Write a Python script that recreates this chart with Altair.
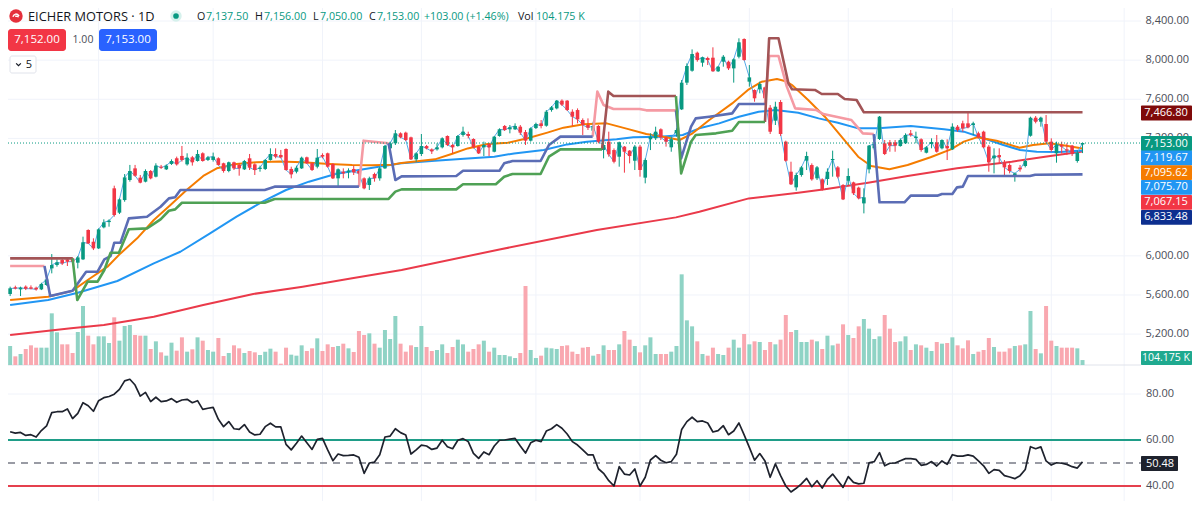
import altair as alt
import pandas as pd

opens = [5610,5678,5657,5685,5678,5674,5657,5702,5872,5906,
5957,5964,5974,5930,5964,6264,6144,6076,6291,6345,
6690,6441,6570,6775,6894,6799,6758,6867,6809,6911,
6884,6939,6997,7021,6935,7007,6969,7048,6980,6980,
6997,6946,6867,6956,6929,6884,6997,6935,6888,6888,
6980,7041,7031,7092,6888,6860,6894,7007,6946,6911,
7031,7048,6939,6792,6860,6854,6888,6867,6792,6724,
6836,6792,6894,7099,7150,7252,7259,7211,6986,7041,
7122,7088,7088,7109,7225,7133,7122,7235,7245,7194,
7116,7109,7143,7064,7225,7327,7293,7293,7320,7265,
7177,7306,7354,7330,7490,7507,7586,7586,7473,7490,
7388,7337,7279,7327,7081,7167,7081,7013,7116,7075,
6972,7116,6799,7191,7201,7293,7208,7109,7252,7497,
7770,7892,8076,7974,8022,8025,7886,7984,7984,7916,
8035,8216,7780,7695,7702,7722,7514,7381,7572,7167,
6860,6700,6826,6973,6928,6792,6782,6785,6979,6904,
6724,6768,6751,6697,6536,6884,7099,7194,7150,7160,
7160,7122,7150,7252,7204,7191,7054,7143,7160,7099,
7122,7088,7320,7354,7354,7337,7252,7269,7116,6996,
7030,6955,6928,6809,6901,6918,7228,7412,7371,7347,
7167,7047,7133,7088,7126,6969,7137.5]
closes = [5668,5667,5674,5664,5664,5657,5712,5759,5906,5933,
5923,5940,5940,5984,6138,6127,6076,6271,6342,6359,
6417,6577,6802,6867,6819,6748,6867,6792,6922,6901,
6922,6969,6935,6980,7003,6956,7041,6969,7007,7014,
6929,6867,6956,6894,6894,6969,6901,6877,6901,6980,
7041,7014,7007,6877,6833,6901,7003,6946,6877,7003,
7014,6911,6792,6884,6843,6871,6854,6843,6690,6792,
6792,6894,7123,7150,7252,7211,7184,6986,7047,7122,
7098,7068,7109,7201,7133,7109,7225,7269,7225,7109,
7047,7133,7109,7218,7293,7286,7313,7327,7259,7177,
7303,7347,7327,7473,7518,7586,7545,7490,7422,7395,
7337,7310,7327,7167,7133,7037,6962,7160,7064,7020,
7116,6877,6979,7218,7269,7211,7167,7191,7286,7770,
7940,8063,8001,8029,8001,7886,7933,8035,7916,8008,
8182,8001,7824,7610,7756,7610,7269,7524,7245,6972,
6731,6826,6904,7020,6782,6904,6683,6860,6990,6809,
6577,6816,6639,6588,6598,7126,7143,7422,7041,7126,
7126,7184,7235,7235,7218,7082,7109,7163,7064,7184,
7099,7320,7286,7303,7313,7354,7211,7109,6955,7024,
7007,6904,6867,6843,6884,6969,7412,7371,7412,7167,
7082,7139,7116,7075,7041,7054,7153]
highs = [5685,5695,5685,5698,5698,5685,5725,5780,6018,5964,
5984,5984,5984,5998,6196,6271,6179,6281,6373,6373,
6717,6587,6836,6929,6929,6826,6884,6877,6946,6929,
6935,6986,7014,7123,7048,7021,7082,7058,7021,7055,
7007,6952,6963,6963,6946,6980,7041,6946,6922,6990,
7099,7099,7082,7099,6911,6922,7014,7014,6956,7092,
7048,7055,6946,6894,6894,6894,6922,6877,6802,6809,
6850,6911,7133,7167,7286,7262,7269,7218,7058,7245,
7133,7098,7150,7211,7231,7143,7235,7320,7269,7201,
7122,7167,7150,7225,7303,7337,7337,7354,7337,7286,
7313,7361,7388,7490,7531,7592,7599,7592,7497,7507,
7405,7405,7371,7337,7167,7269,7098,7167,7122,7081,
7133,7133,6996,7252,7320,7303,7218,7218,7303,7797,
7967,8110,8087,8035,8035,8131,7940,8052,7995,8018,
8223,8223,7950,7702,7780,7729,7541,7575,7592,7177,
6962,6850,6918,7064,6945,6918,6792,6894,7075,6918,
6734,6894,6758,6707,6690,7133,7167,7429,7184,7184,
7184,7201,7252,7286,7269,7201,7122,7201,7235,7191,
7191,7354,7337,7381,7463,7371,7269,7279,7133,7099,
7099,6979,6945,6850,6928,6979,7422,7429,7422,7439,
7201,7167,7167,7150,7133,7075,7156]
lows = [5589,5657,5589,5650,5657,5644,5650,5695,5821,5889,
5906,5896,5906,5872,5957,6121,6059,6070,6281,6298,
6400,6427,6553,6758,6809,6741,6751,6782,6802,6888,
6877,6929,6922,6963,6922,6922,6963,6963,6969,6963,
6922,6850,6854,6877,6819,6877,6877,6826,6860,6877,
6973,6997,6997,6871,6792,6843,6888,6939,6867,6894,
6997,6901,6785,6707,6792,6792,6826,6707,6680,6673,
6758,6768,6888,7082,7133,7201,7173,6979,6962,7020,
7088,7041,7075,7098,7122,7047,7116,7218,7201,7098,
7041,7020,7020,7058,7218,7276,7252,7286,7235,7133,
7167,7296,7303,7320,7473,7497,7531,7480,7327,7354,
7235,7286,7252,7150,6996,7013,6945,6911,6850,6945,
6877,6809,6741,7081,7184,7184,7116,7064,7218,7490,
7746,7882,7984,7933,7950,7882,7879,7933,7899,7770,
8018,7995,7729,7575,7661,7592,7245,7337,7225,6962,
6724,6666,6809,6877,6768,6775,6666,6724,6809,6792,
6570,6724,6622,6577,6434,6843,7082,7184,7030,7064,
7064,7116,7143,7218,7150,7064,7047,7099,7054,7088,
6979,7082,7269,7269,7303,7235,7201,7099,6860,6843,
6945,6809,6843,6758,6860,6904,7218,7354,7320,7150,
7064,6952,7047,7030,7020,6952,7050]

volumes = [399,182,231,336,413,364,364,364,1085,686,
434,434,252,693,1239,616,434,602,602,462,
1001,511,819,840,630,616,616,336,497,266,
196,469,301,581,280,329,581,511,315,280,
567,189,252,413,350,252,294,266,210,280,
343,280,28,364,217,196,413,294,350,560,
294,434,378,399,448,350,273,714,630,665,
448,364,735,546,1029,448,280,413,378,819,
378,294,315,434,252,378,532,434,280,336,
434,511,280,364,210,210,182,147,252,1659,
315,147,196,364,350,336,399,413,280,231,
364,378,196,231,
413,315,315,434,714,532,399,266,413,581,
231,231,231,280,399,1904,938,812,497,231,
196,364,231,210,364,532,364,651,434,497,
483,315,483,434,532,1050,693,735,483,483,
532,497,336,616,413,448,854,630,567,812,
966,763,546,602,1050,763,483,497,602,315,
434,413,364,294,483,448,462,581,413,350,
518,231,280,315,567,378,280,280,350,399,
413,434,1134,336,245,1239,511,399,364,364,
364,350,104]
vol_dirs = ("GRGRRRGGGG" "RRRGGRRGGG" "RGGGRRGRGR" "GGRRGRGRGG" "RRGRRGRRGG" "GRRRGGGRRG"
            "RRRGRGRRRG" "RGGGGRRRGG" "RRGGRRGGRR" "RGRGGGGGRR" "GGRGGGRRRR" "RRGR"
            "GRRGRRGRGG" "GRRGGGGGRG" "RRGGRGGRGR" "GRRGRRRGGG" "RGRGGRRGRR" "GGGGRRRGGR"
            "GRGGRGRGRR" "RGRRRGRRRG" "RGGRGRRGRR" "RGG")

rsi = [63.6,63.0,63.3,62.0,62.3,61.3,64.1,66.1,71.9,72.3,
72.3,73.5,69.3,71.6,76.2,74.9,72.5,77.1,78.4,78.9,
79.9,82.0,85.7,86.4,83.9,79.1,80.7,76.7,78.6,76.7,
77.0,78.0,76.4,77.4,77.7,76.2,77.1,73.3,73.8,74.2,
69.0,65.8,68.0,64.9,64.6,66.7,63.5,62.2,62.5,65.8,
67.3,65.7,65.7,58.1,55.7,58.6,61.7,58.8,55.9,60.3,
60.7,55.7,51.0,53.9,53.2,53.3,53.5,52.5,45.5,50.0,
50.4,53.6,61.3,61.7,64.9,63.2,62.2,53.9,55.7,57.8,
57.4,55.9,56.5,59.9,57.1,56.2,59.9,60.6,59.3,54.2,
52.0,54.8,53.6,57.4,59.9,60.0,60.4,60.7,57.4,54.3,
58.8,59.9,59.3,63.9,64.9,66.7,65.1,62.6,59.3,57.8,
55.7,53.5,53.5,47.5,
45.5,42.3,40.0,48.4,45.2,44.8,47.4,40.0,43.8,51.3,
53.2,51.2,50.1,50.6,53.8,64.6,68.0,69.9,68.0,68.3,
67.4,63.5,64.1,66.2,62.3,63.9,67.4,62.2,56.8,51.2,
54.1,50.9,43.8,49.6,44.5,40.0,37.4,39.0,40.9,43.3,
39.7,42.3,39.1,42.9,45.2,42.3,39.4,44.1,41.6,40.9,
41.2,50.1,50.6,54.5,48.8,49.9,50.0,51.0,51.9,51.9,
51.6,49.0,49.4,50.6,48.7,50.9,49.4,53.6,53.0,53.0,
53.5,53.0,50.9,48.8,45.5,47.1,46.8,44.5,43.9,43.2,
44.5,47.2,57.1,56.2,57.0,50.9,49.1,50.1,49.9,49.4,
48.4,47.8,50.48]

ma_orange = [(0,5548),(7.3,5582),(12,5644),(14.9,5753),(18.7,5889),(21.2,6025),(24.4,6179),(27.6,6366),(30.8,6519),
(33.9,6673),(37.1,6816),(39.7,6895),(43.5,6939),(47.3,6956),(51.7,6963),(56.2,6956),(61.3,6939),(65.7,6929),(69.5,6925),
(73.3,6930),(75.2,6950),(81.6,6986),(84.8,7041),(87.9,7098),(91.7,7143),(95.6,7156),(99.4,7201),(103.2,7259),(106.3,7310),
(110.2,7344),(114.6,7354),(118.4,7300),(122.2,7245),(126,7211),(128.6,7184),(131.1,7252),(134.3,7388),(138.7,7558),(141.9,7702),
(144.4,7780),(147.3,7807),(149,7785),(150.2,7746),(153.3,7593),(156.5,7422),(159.7,7218),(162.9,7013),(165.4,6918),(168.9,6884),
(172.4,6928),(176.8,7007),(180.7,7088),(183.2,7167),(185.7,7211),(189.5,7177),(193.9,7105),(196.5,7133),(199.7,7150),(202.9,7126),(206,7096)]
ma_blue = [(0,5497),(7.3,5548),(13,5623),(20.6,5743),(27.6,5923),(32.7,6042),(38.4,6230),(43.5,6400),(48.5,6553),(53,6673),
(57.4,6758),(62.5,6836),(67,6877),(70.8,6911),(75.2,6946),(81.6,6972),(87.9,6996),(93,7013),(96.8,7047),(102.5,7081),(107,7139),
(110.8,7167),(116.5,7191),(119.7,7211),(124.8,7218),(129.2,7235),(132.4,7303),(136.2,7354),(140,7422),(143.8,7473),(147,7490),
(151.4,7463),(155.3,7405),(159,7361),(162.9,7303),(166.7,7303),(173,7327),(179.4,7293),(183.2,7269),(187,7201),(190.8,7133),
(194,7082),(197.2,7064),(201.6,7060),(206,7076)]
ma_red = [(0,5190),(11.7,5259),(18,5293),(27.6,5378),(37.1,5497),(46.7,5610),(56.2,5685),(65.7,5770),(75.2,5855),(94,6065),
(112.7,6264),(127.9,6393),(132.4,6451),(141.9,6587),(151.4,6645),(156.5,6680),(164.8,6748),(172.4,6816),(181.9,6894),(192.4,6962),
(198.8,7013),(206,7067)]

band_pink_a = [(0,5896),(6.6,5896)]
band_navy_a = [(6.6,5896),(7.7,5589),(12,5644),(14.6,5838),(16.8,5838),(18.1,5964),(19.3,5998),(20,6134),(21.2,6134),(22.8,6383),
(26.3,6400),(28.9,6502),(30.5,6587),(31.7,6598),(32.7,6673),(48.9,6673),(50.8,6707),(67,6707)]
band_pink_b = [(67,6707),(67.9,7177),(72.7,7150)]
band_navy_b = [(72.7,7150),(74,6775),(75.2,6812),(85.7,6816),(87,6870),(94,6870),(94.9,6945),(96.5,6969),(101.9,6969),(103.5,7133),
(105.7,7218),(111.9,7218)]
band_pink_c = [(111.9,7218),(112.8,7678),(114,7541),(115.9,7501),(120.9,7501),(122.2,7487),(127.9,7487)]
band_navy_c = [(127.9,7487),(128.9,6996),(130.8,7320),(131.7,7405),(134.3,7422),(138.7,7456),(140,7552),(145,7552)]
band_pink_d = [(145,7552),(145.8,8042),(147.6,8042),(149.2,7729),(150.8,7507),(154.9,7490),(156.2,7449),(161.6,7388),(163.8,7252),(165.9,7245)]
band_navy_d = [(165.9,7245),(167,6547),(171.8,6547),(173,6615),(178.1,6615),(179,6632),(181,6632),(181.9,6700),(183,6707),(184,6816),
(195.9,6816),(196.9,6829),(206,6833)]
band_dark_a = [(0,5974),(12,5974)]
band_green_a = [(12,5974),(12.9,5548),(14.9,5736),(16.8,5736),(18.1,5855),(19.3,6032),(20.9,6032),(22.8,6271),(26.3,6281),(28.9,6373),
(30.5,6461),(31.7,6475),(33,6543),(48.9,6543),(50.8,6581),(72.7,6581),(74,6656),(75.2,6679),(85.7,6679),(87,6731),(93.3,6731),
(94.9,6809),(96.5,6836),(101.9,6836),(103.5,7013),(105.7,7088),(113.7,7088)]
band_dark_b = [(113.7,7088),(114.9,7678),(115.9,7633),(127.9,7633)]
band_green_b = [(127.9,7633),(128.9,6843),(130.8,7167),(131.7,7235),(135.6,7252),(138.7,7279),(140,7368),(145,7368)]
band_dark_c = [(145,7368),(145.8,8223),(147.6,8223),(149.5,7763),(150.2,7702),(154.6,7695),(155.9,7654),(159,7654),(160.3,7603),
(162.6,7593),(164,7467),(206,7467)]

price_ticks = [8400,8000,7600,7200,6000,5600,5200]
rsi_ticks = [80,60,40]
time_grid = [17,39,60,79,101,121,142,161,181,200,214]

n = 207
assert len(opens)==n and len(closes)==n and len(highs)==n and len(lows)==n and len(volumes)==n and len(vol_dirs)==n and len(rsi)==n

W, H = 1184, 493
UP, DOWN = "#089981", "#f23645"
xs = alt.Scale(domain=[0.552, 226.07], range=[0, W], nice=False, zero=False)
ps = alt.Scale(domain=[3494.4, 8532.9], range=[H, 0], nice=False, zero=False)
vs = alt.Scale(domain=[-2856, 7497], range=[H, 0], nice=False, zero=False)
rs = alt.Scale(domain=[33.48, 247.83], range=[H, 0], nice=False, zero=False)
X = lambda f="i": alt.X(f"{f}:Q", scale=xs, axis=None)
FONT = "Open Sans"

df = pd.DataFrame({"i": range(n), "o": opens, "c": closes, "h": highs, "l": lows, "v": volumes, "z": [0]*n, "rsi": rsi})
df["top"] = df[["o", "c"]].max(axis=1)
df["bot"] = df[["o", "c"]].min(axis=1)
df["col"] = [UP if c >= o else DOWN for o, c in zip(opens, closes)]
df["vcol"] = ["#8fd3c5" if d == "G" else "#f9a8b0" for d in vol_dirs]

def series(points, color, width, scale=ps):
    d = pd.DataFrame(points, columns=["i", "v"])
    return alt.Chart(d).mark_line(color=color, strokeWidth=width, strokeJoin="round").encode(
        x=X(), y=alt.Y("v:Q", scale=scale, axis=None), order="i:Q")

def txt(s, x, y, color, size=11, align="left", weight="normal", font=FONT):
    return alt.Chart(alt.Data(values=[{"a": 1}])).mark_text(
        text=s, color=color, fontSize=size, align=align, baseline="middle", fontWeight=weight, font=font
    ).encode(x=alt.value(x - 8), y=alt.value(y - 8))

def box(x1, x2, y1, y2, color, r=2, stroke=None):
    kw = dict(color=color, cornerRadius=r)
    if stroke:
        kw.update(stroke=stroke, strokeWidth=1)
    return alt.Chart(alt.Data(values=[{"a": 1}])).mark_rect(**kw).encode(
        x=alt.value(x1 - 8), x2=alt.value(x2 - 8), y=alt.value(y1 - 8), y2=alt.value(y2 - 8))

def hline(values, scale, color, width=1, dash=None, right=1133):
    kw = dict(color=color, strokeWidth=width)
    if dash:
        kw["strokeDash"] = dash
    return alt.Chart(pd.DataFrame({"v": values})).mark_rule(**kw).encode(
        x=alt.value(0), x2=alt.value(right), y=alt.Y("v:Q", scale=scale, axis=None))

def dot(x, y, size, color, shape="circle", filled=True, stroke=None, sw=1.5):
    kw = dict(shape=shape, size=size, filled=filled, opacity=1)
    if filled:
        kw["color"] = color
    else:
        kw.update(stroke=stroke, strokeWidth=sw, fillOpacity=0)
    return alt.Chart(alt.Data(values=[{"a": 1}])).mark_point(**kw).encode(
        x=alt.value(x - 8), y=alt.value(y - 8))

GRID = "#f0f3fa"
layers = []
# grid
layers.append(alt.Chart(pd.DataFrame({"i": time_grid})).mark_rule(color=GRID, strokeWidth=1).encode(
    x=X(), y=alt.value(0), y2=alt.value(H)))
layers.append(hline(price_ticks, ps, GRID))
layers.append(hline([80], rs, GRID))
layers.append(alt.Chart(alt.Data(values=[{"a": 1}])).mark_rule(color="#e0e3eb", strokeWidth=1).encode(
    x=alt.value(0), x2=alt.value(1133), y=alt.value(357)))
# volume
layers.append(alt.Chart(df).mark_bar(size=4).encode(
    x=X(), y=alt.Y("v:Q", scale=vs, axis=None), y2="z:Q", color=alt.Color("vcol:N", scale=None)))
# moving averages and close
layers.append(series(ma_red, "#ea3a4a", 2))
layers.append(series(ma_blue, "#2196f3", 2))
layers.append(series(ma_orange, "#f57c00", 2))
layers.append(alt.Chart(df).mark_line(color="#56a9e8", strokeWidth=1).encode(
    x=X(), y=alt.Y("c:Q", scale=ps, axis=None), order="i:Q"))
# candles
layers.append(alt.Chart(df).mark_rule(strokeWidth=1).encode(
    x=X(), y=alt.Y("l:Q", scale=ps, axis=None), y2="h:Q", color=alt.Color("col:N", scale=None)))
layers.append(alt.Chart(df).mark_bar(size=3.6).encode(
    x=X(), y=alt.Y("bot:Q", scale=ps, axis=None), y2="top:Q", color=alt.Color("col:N", scale=None)))
# bands
NAVY, PINK, DARK, GREEN = "#5b6db5", "#f59aa3", "#a25456", "#4fa155"
for seg, col in [(band_pink_a, PINK), (band_pink_b, PINK), (band_pink_c, PINK), (band_pink_d, PINK),
                 (band_navy_a, NAVY), (band_navy_b, NAVY), (band_navy_c, NAVY), (band_navy_d, NAVY),
                 (band_dark_a, DARK), (band_dark_b, DARK), (band_dark_c, DARK),
                 (band_green_a, GREEN), (band_green_b, GREEN)]:
    layers.append(series(seg, col, 2.6))
# last price line
layers.append(hline([7153], ps, UP, 1, [1, 2]))
# rsi
layers.append(hline([60], rs, "#1f9d88", 2))
layers.append(hline([40], rs, "#e5404e", 2))
layers.append(hline([50], rs, "#787b86", 1.5, [7, 6]))
layers.append(alt.Chart(df).mark_line(color="#1e222d", strokeWidth=1.7, strokeJoin="round").encode(
    x=X(), y=alt.Y("rsi:Q", scale=rs, axis=None), order="i:Q"))

# price-axis labels
AX = "#4a4d57"
layers.append(alt.Chart(pd.DataFrame({"v": price_ticks, "t": [f"{p:,.2f}" for p in price_ticks]})).mark_text(
    color=AX, fontSize=11, align="right", font=FONT, baseline="middle").encode(
    x=alt.value(1189 - 8), y=alt.Y("v:Q", scale=ps, axis=None), text="t:N"))
layers.append(alt.Chart(pd.DataFrame({"v": rsi_ticks, "t": [f"{p:,.2f}" for p in rsi_ticks]})).mark_text(
    color=AX, fontSize=11, align="right", font=FONT, baseline="middle").encode(
    x=alt.value(1174 - 8), y=alt.Y("v:Q", scale=rs, axis=None), text="t:N"))
for label, yc, col in [("7,466.80", 113, "#7f0a0a"), ("7,153.00", 143.5, UP), ("7,119.67", 158, "#2196f3"),
                       ("7,095.62", 172.7, "#f57c00"), ("7,075.70", 187.3, "#2196f3"),
                       ("7,067.15", 202.3, "#f23645"), ("6,833.48", 217.3, "#0d2f8f")]:
    layers.append(box(1141, 1192, yc - 7.4, yc + 7.4, col, 1))
    layers.append(txt(label, 1166, yc, "white", 11, "center"))
layers.append(box(1141, 1192, 351, 365, "#1fa98f", 1))
layers.append(txt("104.175 K", 1166, 358, "white", 10.5, "center"))
layers.append(box(1141, 1178, 456, 471, "#1e222d", 1))
layers.append(txt("50.48", 1160, 463.5, "white", 11, "center"))

# header
layers.append(dot(16, 16, 180, "#e5303c"))
layers.append(dot(16, 15.5, 60, None, shape="M-0.8,0.35 C-0.5,-0.5 0.2,-0.6 0.8,0.1 M-0.2,0.1 C0.1,0.15 0.4,0.3 0.7,0.35", filled=False, stroke="white", sw=1.5))
layers.append(txt("EICHER MOTORS · 1D", 28, 16.5, "#131722", 12.8))
layers.append(dot(176, 16, 130, "#d6f1ec"))
layers.append(dot(176, 16, 32, UP))
INK = "#131722"
for s, x, c in [("O", 197, INK), ("7,137.50", 206, UP), ("H", 255, INK), ("7,156.00", 264, UP),
                ("L", 313, INK), ("7,050.00", 320, UP), ("C", 369, INK), ("7,153.00", 377, UP),
                ("+103.00 (+1.46%)", 424, UP), ("Vol", 518, INK), ("104.175 K", 536, UP)]:
    layers.append(txt(s, x, 16.5, c, 10.7))
layers.append(box(8, 66, 29, 51, "#f23645", 3))
layers.append(txt("7,152.00", 37, 40, "white", 11.5, "center"))
layers.append(txt("1.00", 83, 40, "#4a4d57", 10.5, "center"))
layers.append(box(99, 157, 29, 51, "#2962ff", 3))
layers.append(txt("7,153.00", 128, 40, "white", 11.5, "center"))
layers.append(box(10, 36, 56, 73, "white", 2, "#e0e3eb"))
layers.append(dot(18.5, 64.5, 22, None, shape="M-1,-0.5 L0,0.5 L1,-0.5", filled=False, stroke="#131722", sw=1.2))
layers.append(txt("5", 29, 64.5, "#131722", 11, "center"))

chart = alt.layer(*layers).resolve_scale(y="independent", color="independent").properties(
    width=W, height=H, padding=0, autosize="none", background="white",
).configure_view(strokeWidth=0)
chart.save("out.html", embed_options={"renderer": "svg", "actions": False})
